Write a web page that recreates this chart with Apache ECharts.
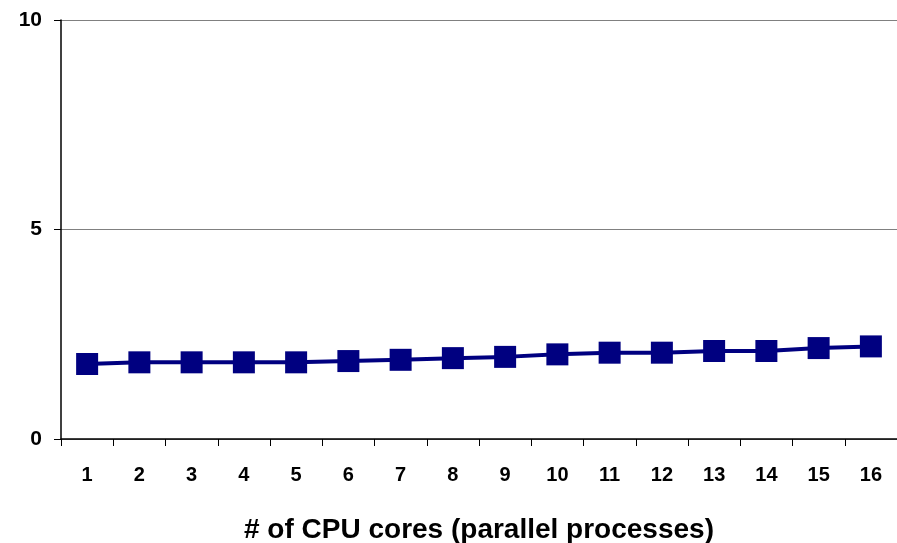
<!DOCTYPE html>
<html><head><meta charset="utf-8">
<script src="https://cdn.jsdelivr.net/npm/echarts@6/dist/echarts.min.js"></script>
<style>html,body{margin:0;padding:0;background:#fff}#c{width:897px;height:543px}</style>
</head><body><div id="c"></div>
<script>
const categories = ['1','2','3','4','5','6','7','8','9','10','11','12','13','14','15','16'];
const values = [1.79,1.83,1.83,1.83,1.83,1.86,1.89,1.93,1.96,2.02,2.06,2.06,2.10,2.10,2.17,2.21];
const yTicks = [0,5,10];
const chart = echarts.init(document.getElementById('c'));
chart.setOption({
  animation:false,
  grid:{left:61,right:0,top:20,bottom:104,containLabel:false,outerBoundsMode:'none'},
  xAxis:{type:'category',data:categories,boundaryGap:true,
    name:'# of CPU cores (parallel processes)',nameLocation:'middle',nameGap:77,
    nameTextStyle:{fontFamily:'Liberation Sans, Arial',fontWeight:'bold',fontSize:28,color:'#000'},
    axisLine:{lineStyle:{color:'#000',width:1.5}},
    axisTick:{show:true,alignWithLabel:false,length:7,lineStyle:{color:'#000'}},
    axisLabel:{fontFamily:'Liberation Sans, Arial',fontWeight:'bold',fontSize:20,color:'#000',margin:26},
    splitLine:{show:false}},
  yAxis:{type:'value',min:0,max:10,interval:5,
    axisLine:{show:true,lineStyle:{color:'#000',width:1.5}},
    axisTick:{show:true,length:7,lineStyle:{color:'#000'}},
    axisLabel:{fontFamily:'Liberation Sans, Arial',fontWeight:'bold',fontSize:21,color:'#000',margin:19,
      formatter:v=>yTicks.includes(v)?String(v):''},
    splitLine:{show:true,lineStyle:{color:'#808080',width:1}}},
  series:[{type:'line',data:values,symbol:'rect',symbolSize:22,
    lineStyle:{color:'#000080',width:4},itemStyle:{color:'#000080'}}]
});
</script></body></html>
